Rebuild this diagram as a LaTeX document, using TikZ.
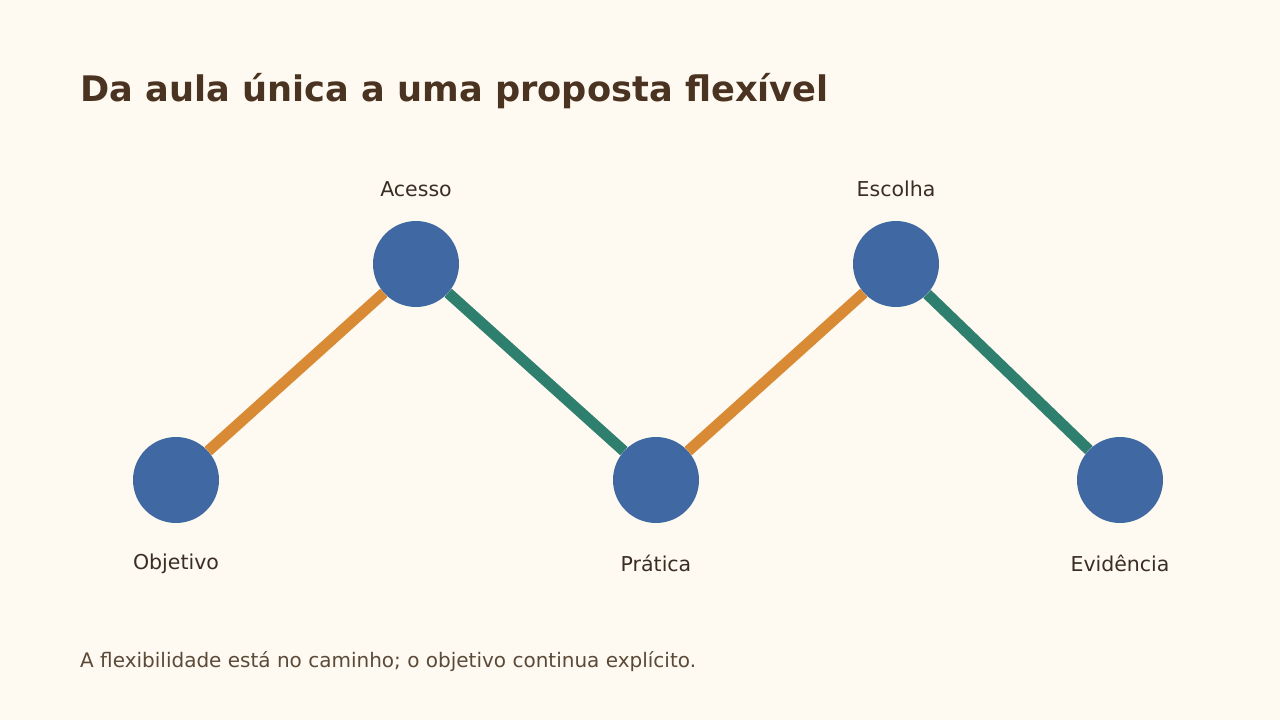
\documentclass[tikz,border=0pt]{standalone}
\usepackage{fontspec}
\setmainfont{DejaVu Sans}
\usepackage{tikz}
\usetikzlibrary{positioning}

\definecolor{paper}{HTML}{FEF9F1}
\definecolor{titlebrown}{HTML}{4A3320}
\definecolor{labelbrown}{HTML}{3A2E24}
\definecolor{notebrown}{HTML}{5B4A38}
\definecolor{stepblue}{HTML}{4068A2}
\definecolor{pathorange}{HTML}{D88A35}
\definecolor{pathgreen}{HTML}{2E7F6D}

\begin{document}
\begin{tikzpicture}[x=1pt,y=-1pt,
		stop/.style={circle,fill=stepblue,minimum size=86pt,inner sep=0pt},
		stoplabel/.style={anchor=base,text=labelbrown,font=\fontsize{20.5}{24}\selectfont},
		up/.style={line width=11pt,draw=pathorange},
		down/.style={line width=11pt,draw=pathgreen}]
		\fill[paper] (0,0) rectangle (1280,720);
		\node[anchor=base west,text=titlebrown,font=\fontsize{35.2}{42}\selectfont\bfseries,inner sep=0pt] (Title) at (80,101) {Da aula única a uma proposta flexível};
		\node[stop] (Objetivo)  at (176,480) {};
		\node[stop] (Acesso)    at (416,264) {};
		\node[stop] (Pratica)   at (656,480) {};
		\node[stop] (Escolha)   at (896,264) {};
		\node[stop] (Evidencia) at (1120,480) {};

		\node[stoplabel] at (176,569)  {Objetivo};
		\node[stoplabel] at (416,196)  {Acesso};
		\node[stoplabel] at (656,571)  {Prática};
		\node[stoplabel] at (896,196)  {Escolha};
		\node[stoplabel] at (1120,571) {Evidência};

		\draw[up]   (Objetivo) -- (Acesso);
		\draw[down] (Acesso)   -- (Pratica);
		\draw[up]   (Pratica)  -- (Escolha);
		\draw[down] (Escolha)  -- (Evidencia);

		\node[anchor=base west,text=notebrown,font=\fontsize{20}{24}\selectfont,inner sep=0pt] (Note) at (80,667) {A flexibilidade está no caminho; o objetivo continua explícito.};
	\end{tikzpicture}
\end{document}
